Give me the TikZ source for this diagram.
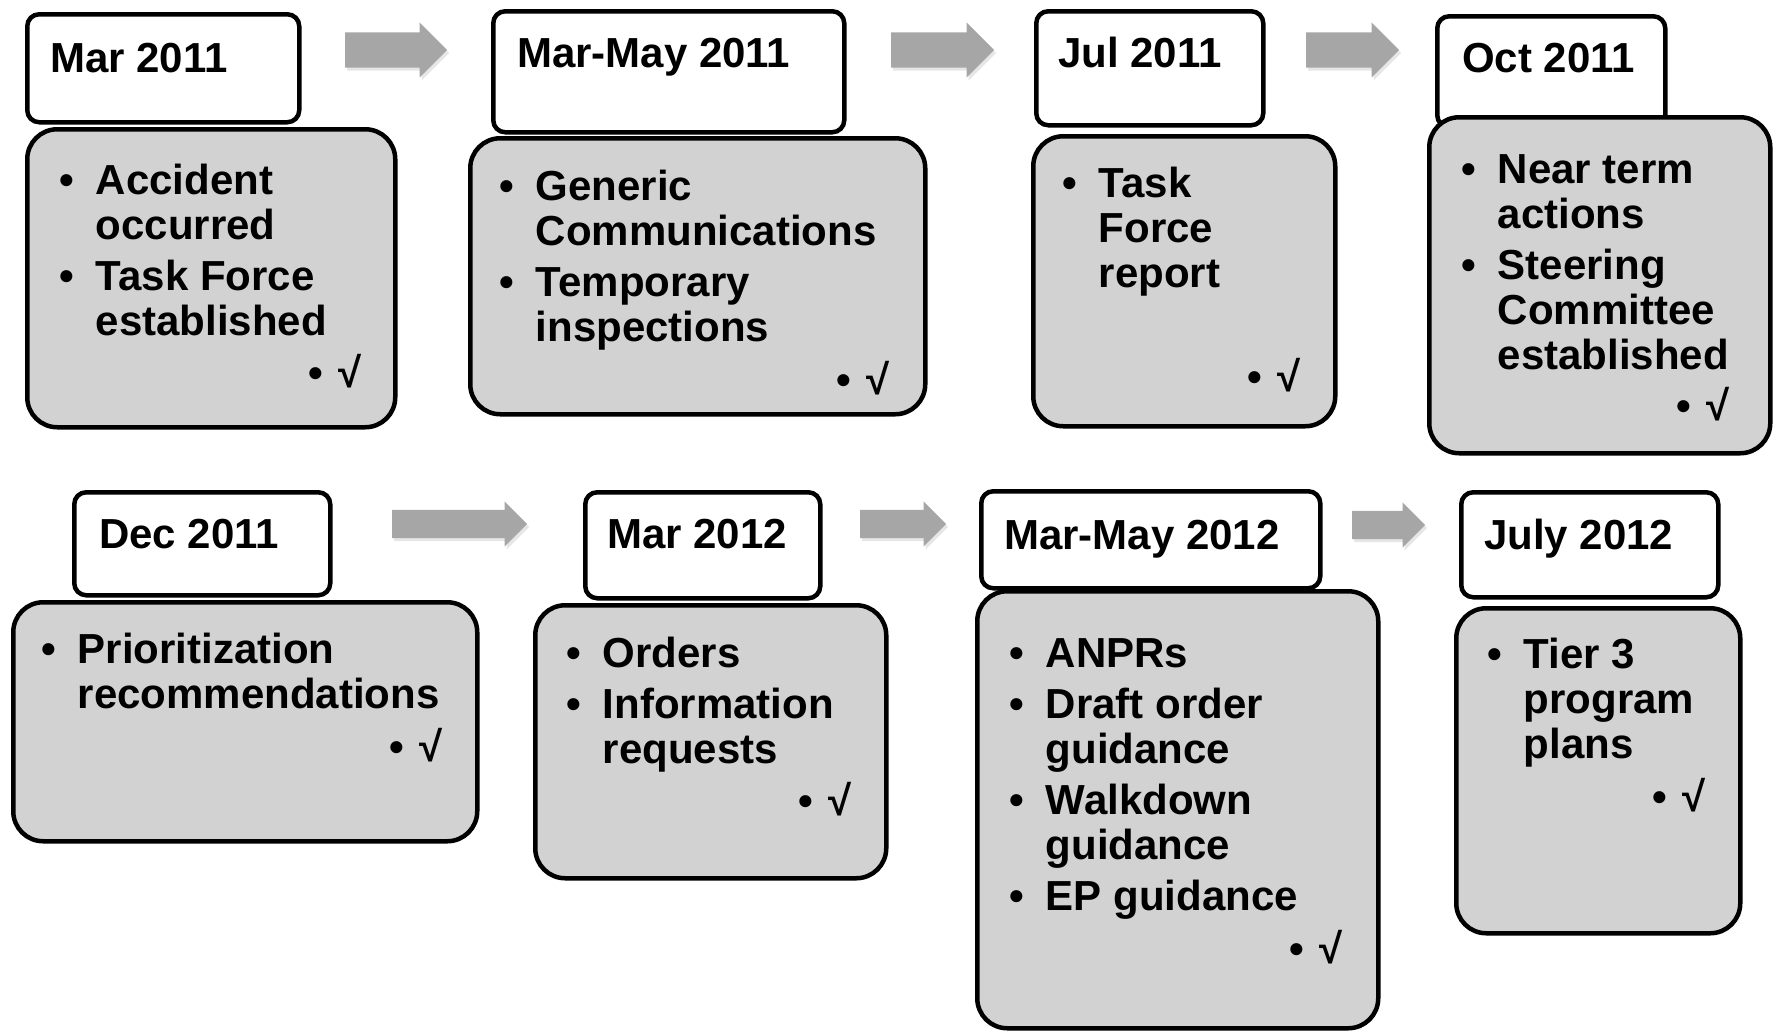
\documentclass[tikz,border=0pt]{standalone}
\usepackage{fontspec}
\setmainfont{Liberation Sans}
\usepackage{xcolor}
\usepackage{array}
\usetikzlibrary{shapes.arrows,shadows}
\definecolor{boxgray}{RGB}{210,210,210}
\definecolor{arrowgray}{RGB}{166,166,166}
\newcommand{\points}[1]{\begin{tabular}[t]{@{}l@{\hskip 22pt}l@{}}#1\end{tabular}}

\begin{document}
\begin{tikzpicture}[x=1pt,y=-1pt,
	date/.style={draw=black,line width=4.5pt,fill=white,rounded corners=12pt,anchor=north west,inner sep=0pt},
	list/.style={draw=black,line width=4.5pt,fill=boxgray,rounded corners=30pt,anchor=north west,inner sep=0pt},
	datetext/.style={anchor=base west,inner sep=0pt,font=\fontsize{42}{45}\selectfont\bfseries},
	listtext/.style={anchor=base west,inner sep=0pt,font=\fontsize{42}{45}\selectfont\bfseries},
	tick/.style={anchor=base east,inner sep=0pt,font=\fontsize{42}{45}\selectfont\bfseries},
	next/.style={single arrow,anchor=tail,fill=arrowgray,draw=none,inner sep=0pt,
		drop shadow={opacity=0.2,shadow xshift=2pt,shadow yshift=-3pt}},
	wide/.style={text height=17.5pt,text depth=17.5pt,single arrow head extend=10pt},
	slim/.style={text height=14pt,text depth=14pt,single arrow head extend=8.5pt}]
	\useasboundingbox (0,0) rectangle (1777,1031);
	%	\draw[step=100,help lines] (0,0) grid (1777,1031);
	% first row
			\node at(25,12)[date,minimum width=272,minimum height=108](date1){};
			\node at(491,9)[date,minimum width=351,minimum height=121](date2){};
			\node at(1034,9)[date,minimum width=227,minimum height=114](date3){};
			\node at(1435,14)[date,minimum width=228,minimum height=111](date4){};
			\node at(25,127)[list,minimum width=368,minimum height=298](list1){};
			\node at(468,136)[list,minimum width=455,minimum height=276](list2){};
			\node at(1031,134)[list,minimum width=302,minimum height=290](list3){};
			\node at(1427,115)[list,minimum width=341,minimum height=336](list4){};
			\node at(345,50)[next,wide,minimum height=102](arr1){};
			\node at(891,50)[next,wide,minimum height=103](arr2){};
			\node at(1306,50)[next,wide,minimum height=93](arr3){};
	% second row
			\node at(72,490)[date,minimum width=256,minimum height=103](date5){};
			\node at(583,490)[date,minimum width=235,minimum height=106](date6){};
			\node at(979,489)[date,minimum width=339,minimum height=97](date7){};
			\node at(1459,490)[date,minimum width=257,minimum height=105](date8){};
			\node at(11,600)[list,minimum width=464,minimum height=239](list5){};
			\node at(533,603)[list,minimum width=351,minimum height=273](list6){};
			\node at(975,589)[list,minimum width=401,minimum height=437](list7){};
			\node at(1454,606)[list,minimum width=284,minimum height=325](list8){};
			\node at(392,524)[next,slim,minimum height=135](arr4){};
			\node at(860,524)[next,slim,minimum height=86](arr5){};
			\node at(1352,525)[next,slim,minimum height=73](arr6){};
	% dates
			\node at(50,72)[datetext](when1){Mar 2011};
			\node at(517,67)[datetext](when2){Mar-May 2011};
			\node at(1058,67)[datetext](when3){Jul 2011};
			\node at(1462,72)[datetext](when4){Oct 2011};
			\node at(99,548)[datetext](when5){Dec 2011};
			\node at(607,548)[datetext](when6){Mar 2012};
			\node at(1004,549)[datetext](when7){Mar-May 2012};
			\node at(1484,549)[datetext](when8){July 2012};
	% items
			\node at(59,194)[listtext](items1){\points{•&Accident\\&occurred\\[6pt]•&Task Force\\&established}};
			\node at(499,200)[listtext](items2){\points{•&Generic\\&Communications\\[6pt]•&Temporary\\&inspections}};
			\node at(1062,197)[listtext](items3){\points{•&Task\\&Force\\&report}};
			\node at(1461,183)[listtext](items4){\points{•&Near term\\&actions\\[6pt]•&Steering\\&Committee\\&established}};
			\node at(41,663)[listtext](items5){\points{•&Prioritization\\&recommendations}};
			\node at(566,667)[listtext](items6){\points{•&Orders\\[6pt]•&Information\\&requests}};
			\node at(1009,667)[listtext](items7){\points{•&ANPRs\\[6pt]•&Draft order\\&guidance\\[6pt]•&Walkdown\\&guidance\\[6pt]•&EP guidance}};
			\node at(1487,668)[listtext](items8){\points{•&Tier 3\\&program\\&plans}};
	% ticks
			\node at(362,387)[tick](done1){•\hspace{16pt}√};
			\node at(890,394)[tick](done2){•\hspace{16pt}√};
			\node at(1301,391)[tick](done3){•\hspace{16pt}√};
			\node at(1730,420)[tick](done4){•\hspace{16pt}√};
			\node at(443,761)[tick](done5){•\hspace{16pt}√};
			\node at(852,815)[tick](done6){•\hspace{16pt}√};
			\node at(1343,963)[tick](done7){•\hspace{16pt}√};
			\node at(1706,811)[tick](done8){•\hspace{16pt}√};
\end{tikzpicture}
\end{document}
